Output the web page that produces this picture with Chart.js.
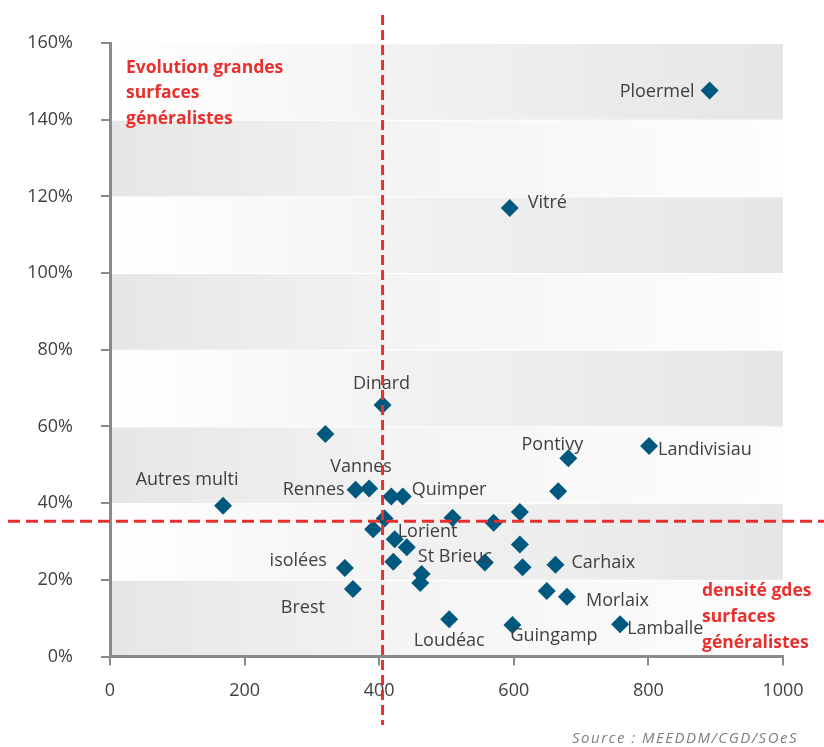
<!DOCTYPE html>
<html>
<head>
    <meta charset="utf-8">
    <title>Densité / évolution grandes surfaces</title>
    <script src="https://cdn.jsdelivr.net/npm/chart.js"></script>
    <style>
        body { margin: 0; background: #fff; }
        #wrap { position: relative; width: 824px; height: 747px; }
    </style>
</head>
<body>
    <div id="wrap">
        <canvas id="densiteChart"></canvas>
    </div>

    <script>
        // Données
        const villes = ['Ploermel', 'Vitré', 'Dinard', '', 'Autres multi', 'Rennes', 'Vannes', '', 'Quimper', '',
            '', 'Lorient', 'St Brieuc', '', 'isolées', 'Brest', '', '', '', '',
            '', '', '', '', 'Carhaix', '', 'Morlaix', 'Loudéac', 'Guingamp', 'Lamballe',
            'Pontivy', '', 'Landivisiau'];
        const densite = [891, 594, 405, 320, 168, 365, 385, 418, 435, 408,
            391, 423, 441, 421, 349, 361, 463, 461, 509, 570,
            609, 557, 609, 613, 662, 649, 679, 504, 598, 758,
            681, 666, 801];
        const evolution = [147.6, 117.0, 65.6, 58.0, 39.3, 43.5, 43.8, 41.7, 41.7, 36.0,
            33.2, 30.6, 28.5, 24.7, 23.1, 17.6, 21.5, 19.2, 36.2, 34.9,
            37.7, 24.5, 29.2, 23.3, 23.9, 17.1, 15.6, 9.7, 8.2, 8.4,
            51.7, 43.1, 54.9];
        const seuilDensite = 405;
        const seuilEvolution = 35.3;
        const xTicks = [0, 200, 400, 600, 800, 1000];
        const yTicks = [0, 20, 40, 60, 80, 100, 120, 140, 160];

        // Position des étiquettes (style uniquement)
        const etiquettes = {
            'Ploermel': { align: 'right', dx: -15, dy: 1 },
            'Vitré': { align: 'left', dx: 18, dy: -5 },
            'Dinard': { align: 'center', dx: -1, dy: -21 },
            'Autres multi': { align: 'center', dx: -36, dy: -26 },
            'Rennes': { align: 'right', dx: -11, dy: 0 },
            'Vannes': { align: 'center', dx: -8, dy: -22 },
            'Quimper': { align: 'left', dx: 9, dy: -7 },
            'Lorient': { align: 'left', dx: 3, dy: -7 },
            'St Brieuc': { align: 'left', dx: 11, dy: 10 },
            'isolées': { align: 'right', dx: -18, dy: -7 },
            'Brest': { align: 'right', dx: -28, dy: 19 },
            'Pontivy': { align: 'center', dx: -16, dy: -13 },
            'Landivisiau': { align: 'left', dx: 9, dy: 4 },
            'Carhaix': { align: 'left', dx: 16, dy: -2 },
            'Morlaix': { align: 'left', dx: 19, dy: 4 },
            'Lamballe': { align: 'left', dx: 7, dy: 5 },
            'Guingamp': { align: 'left', dx: -2, dy: 11 },
            'Loudéac': { align: 'center', dx: 0, dy: 22 }
        };

        const police = '"Open Sans", "DejaVu Sans", sans-serif';
        const rouge = '#e8302e';
        const grisAxe = '#8a8a8a';

        // Bandes de fond (décalées de part et d'autre du seuil)
        const fondBandes = {
            id: 'fondBandes',
            beforeDraw(chart) {
                const { ctx, chartArea: a, scales: { x, y } } = chart;
                const xs = x.getPixelForValue(seuilDensite);
                ctx.save();
                for (let i = 0; i < yTicks.length - 1; i++) {
                    const y0 = y.getPixelForValue(yTicks[i + 1]) + 1;
                    const y1 = y.getPixelForValue(yTicks[i]);
                    const grisGauche = i % 2 === 0;
                    let g = ctx.createLinearGradient(a.left, 0, xs, 0);
                    g.addColorStop(0, grisGauche ? '#e6e6e6' : '#ffffff');
                    g.addColorStop(1, grisGauche ? '#f2f2f2' : '#f4f4f4');
                    ctx.fillStyle = g;
                    ctx.fillRect(a.left, y0, xs - a.left, y1 - y0);
                    g = ctx.createLinearGradient(xs, 0, a.right, 0);
                    g.addColorStop(0, grisGauche ? '#f4f4f4' : '#f2f2f2');
                    g.addColorStop(1, grisGauche ? '#fdfdfd' : '#e6e6e6');
                    ctx.fillStyle = g;
                    ctx.fillRect(xs, y0, a.right - xs, y1 - y0);
                }
                ctx.restore();
            }
        };

        // Étiquettes, seuils et textes
        const annotations = {
            id: 'annotations',
            afterDraw(chart) {
                const { ctx, chartArea: a, scales: { x, y } } = chart;
                const meta = chart.getDatasetMeta(0);
                ctx.save();
                ctx.font = '18px ' + police;
                ctx.fillStyle = '#404040';
                ctx.textBaseline = 'middle';
                meta.data.forEach((pt, i) => {
                    const nom = villes[i];
                    if (!nom) return;
                    const e = etiquettes[nom];
                    ctx.textAlign = e.align;
                    ctx.fillText(nom, pt.x + e.dx, pt.y + e.dy);
                });

                // lignes de seuil
                ctx.strokeStyle = rouge;
                ctx.lineWidth = 3;
                const xs = x.getPixelForValue(seuilDensite);
                ctx.setLineDash([10, 5]);
                ctx.beginPath();
                ctx.moveTo(xs, 15);
                ctx.lineTo(xs, chart.height - 22);
                ctx.stroke();
                const ys = y.getPixelForValue(seuilEvolution);
                ctx.setLineDash([12, 6]);
                ctx.beginPath();
                ctx.moveTo(8, ys);
                ctx.lineTo(chart.width, ys);
                ctx.stroke();
                ctx.setLineDash([]);

                // textes rouges
                ctx.fillStyle = rouge;
                ctx.font = 'bold 17.5px ' + police;
                ctx.textAlign = 'left';
                ['Evolution grandes', 'surfaces', 'généralistes'].forEach((t, k) => {
                    ctx.fillText(t, a.left + 16, a.top + 25 + k * 25.5);
                });
                ['densité gdes', 'surfaces', 'généralistes'].forEach((t, k) => {
                    ctx.fillText(t, a.right - 81, a.bottom - 65 + k * 25.8);
                });

                // source
                ctx.fillStyle = '#7f7f7f';
                ctx.font = 'italic 15px ' + police;
                ctx.letterSpacing = '1.5px';
                ctx.textAlign = 'right';
                ctx.fillText('Source : MEEDDM/CGD/SOeS', a.right + 15, chart.height - 8);
                ctx.restore();
            }
        };

        new Chart(document.getElementById('densiteChart'), {
            type: 'scatter',
            data: {
                datasets: [{
                    label: 'Villes',
                    data: densite.map((v, i) => ({ x: v, y: evolution[i] })),
                    pointStyle: 'rectRot',
                    pointRadius: 9,
                    pointHoverRadius: 9,
                    backgroundColor: '#00587f',
                    borderWidth: 0
                }]
            },
            options: {
                responsive: true,
                maintainAspectRatio: false,
                animation: false,
                events: [],
                layout: { padding: { left: 0, right: 41, top: 43, bottom: 0 } },
                plugins: {
                    legend: { display: false },
                    tooltip: { enabled: false }
                },
                scales: {
                    x: {
                        type: 'linear',
                        min: xTicks[0],
                        max: xTicks[xTicks.length - 1],
                        afterBuildTicks: s => { s.ticks = xTicks.map(v => ({ value: v })); },
                        afterFit: s => { s.height = 90.5; },
                        ticks: {
                            color: '#404040',
                            font: { family: police, size: 18 },
                            padding: 15,
                            callback: v => String(v)
                        },
                        grid: { drawOnChartArea: false, drawTicks: true, tickLength: 9, color: grisAxe, lineWidth: 2 },
                        border: { display: true, color: grisAxe, width: 3 }
                    },
                    y: {
                        type: 'linear',
                        min: yTicks[0],
                        max: yTicks[yTicks.length - 1],
                        afterBuildTicks: s => { s.ticks = yTicks.map(v => ({ value: v })); },
                        afterFit: s => { s.width = 110; },
                        ticks: {
                            color: '#404040',
                            font: { family: police, size: 18 },
                            padding: 28,
                            callback: v => v + '%'
                        },
                        grid: { drawOnChartArea: false, drawTicks: true, tickLength: 9, color: grisAxe, lineWidth: 2 },
                        border: { display: true, color: grisAxe, width: 3 }
                    }
                }
            },
            plugins: [fondBandes, annotations]
        });
    </script>
</body>
</html>
